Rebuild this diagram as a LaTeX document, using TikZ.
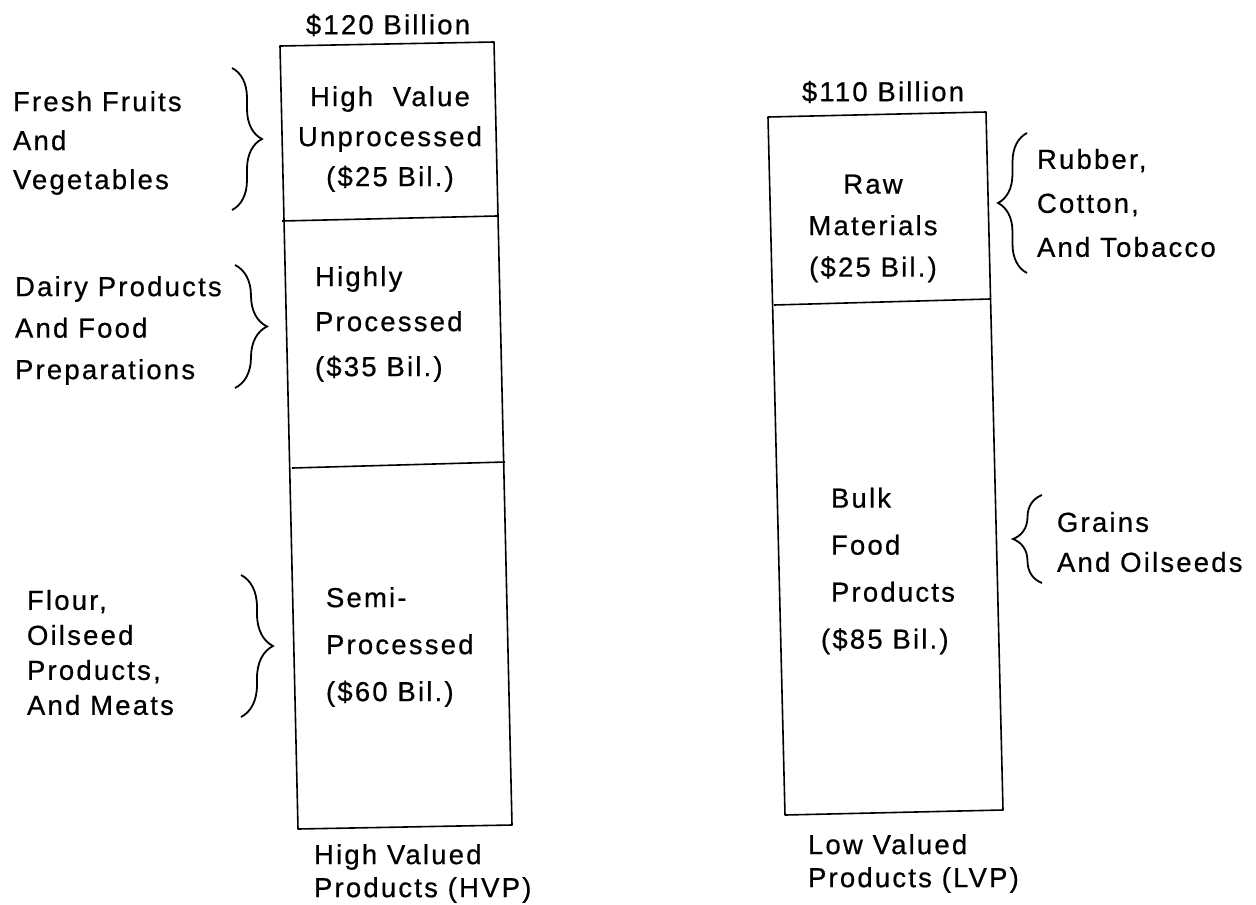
\documentclass[tikz,border=0pt]{standalone}
\usepackage{fontspec}
\setmainfont[LetterSpace=8,FakeBold=0.6]{Liberation Sans}
\usetikzlibrary{decorations.pathreplacing}
\tikzset{
  barline/.style={line width=1.6pt, line join=round},
  lbl/.style={inner sep=0pt, outer sep=0pt, text=black},
  brc/.style={decorate, decoration={brace, amplitude=#1}, line width=1.8pt},
}
\newcommand{\fs}[1]{\fontsize{27.5pt}{#1pt}\selectfont}
\begin{document}
\begin{tikzpicture}[x=1pt,y=-1pt]
\useasboundingbox[fill=white] (0,0) rectangle (1256,905);
% left bar
\coordinate (LTL) at (280,46);
\coordinate (LTR) at (494,42);
\coordinate (LBR) at (512,825);
\coordinate (LBL) at (298,829);
\coordinate (LD1a) at (282,221);
\coordinate (LD1b) at (497,216);
\coordinate (LD2a) at (292,468);
\coordinate (LD2b) at (505,462);
\draw[barline] (LTL) -- (LTR) -- (LBR) -- (LBL) -- cycle;
\draw[barline] (LD1a) -- (LD1b);
\draw[barline] (LD2a) -- (LD2b);
% right bar
\coordinate (RTL) at (768,117);
\coordinate (RTR) at (986,112);
\coordinate (RBR) at (1003,810);
\coordinate (RBL) at (785,815);
\coordinate (RDa) at (774,305);
\coordinate (RDb) at (990,299);
\draw[barline] (RTL) -- (RTR) -- (RBR) -- (RBL) -- cycle;
\draw[barline] (RDa) -- (RDb);
% braces
\coordinate (B1a) at (232,68);  \coordinate (B1b) at (232,210);
\coordinate (B2a) at (235,265); \coordinate (B2b) at (235,388);
\coordinate (B3a) at (241,575); \coordinate (B3b) at (241,717);
\coordinate (B4a) at (1027,273); \coordinate (B4b) at (1027,133);
\coordinate (B5a) at (1042,583); \coordinate (B5b) at (1042,495);
\draw[brc=30pt] (B1a) -- (B1b);
\draw[brc=32pt] (B2a) -- (B2b);
\draw[brc=32pt] (B3a) -- (B3b);
\draw[brc=29pt] (B4a) -- (B4b);
\draw[brc=29pt] (B5a) -- (B5b);
% titles
\node[lbl, font=\fs{32}] (t120) at (388,25) {\$120 Billion};
\node[lbl, font=\fs{32}] (t110) at (883,92) {\$110 Billion};
% bar texts
\node[lbl, align=center, font=\fs{40}] (hv) at (390,139) {High~ Value\\Unprocessed\\(\$25 Bil.)};
\node[lbl, align=left, anchor=west, font=\fs{45}] (hp) at (315,324) {Highly\\Processed\\(\$35 Bil.)};
\node[lbl, align=left, anchor=west, font=\fs{47}] (sp) at (326,647) {Semi-\\Processed\\(\$60 Bil.)};
\node[lbl, align=center, font=\fs{41.5}] (raw) at (873,228.5) {Raw\\Materials\\(\$25 Bil.)};
\node[lbl, align=left, anchor=west, font=\fs{47}] (bulk) at (831,571) {Bulk\\Food\\Products\\\hspace*{-10pt}(\$85 Bil.)};
% side texts
\node[lbl, align=left, anchor=west, font=\fs{39}] (ff) at (13,143) {Fresh Fruits\\And\\Vegetables};
\node[lbl, align=left, anchor=west, font=\fs{41.5}] (dp) at (15,330.5) {Dairy Products\\And Food\\Preparations};
\node[lbl, align=left, anchor=west, font=\fs{35}] (fl) at (27,652.5) {Flour,\\Oilseed\\Products,\\And Meats};
\node[lbl, align=left, anchor=west, font=\fs{44}] (rb) at (1037,203) {Rubber,\\Cotton,\\And Tobacco};
\node[lbl, align=left, anchor=west, font=\fs{40}] (gr) at (1057,542) {Grains\\And Oilseeds};
% bottom labels
\node[lbl, align=left, anchor=west, font=\fs{33}] (hvp) at (314,873.5) {High Valued\\Products (HVP)};
\node[lbl, align=left, anchor=west, font=\fs{33}] (lvp) at (808,863.5) {Low Valued\\Products (LVP)};
\end{tikzpicture}
\end{document}
